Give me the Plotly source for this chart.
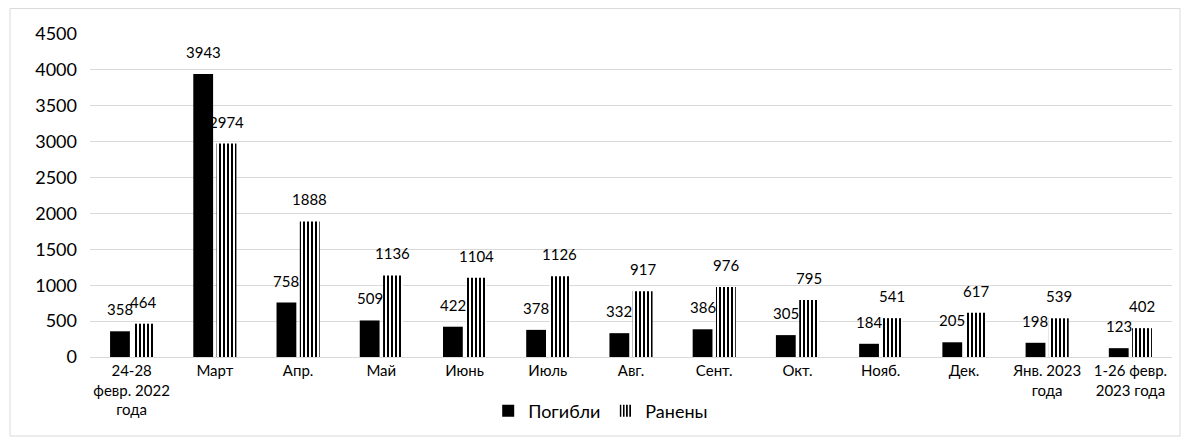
import plotly.graph_objects as go

categories = ["24-28<br>февр. 2022<br>года", "Март", "Апр.", "Май", "Июнь", "Июль", "Авг.",
              "Сент.", "Окт.", "Нояб.", "Дек.", "Янв. 2023<br>года", "1-26 февр.<br>2023 года"]
killed = [358, 3943, 758, 509, 422, 378, 332, 386, 305, 184, 205, 198, 123]
wounded = [464, 2974, 1888, 1136, 1104, 1126, 917, 976, 795, 541, 617, 539, 402]
y_ticks = [0, 500, 1000, 1500, 2000, 2500, 3000, 3500, 4000, 4500]

FONT = "Lato, Noto Sans, sans-serif"
BARGAP = 0.44
PLOT_W = 1082
slot_px = PLOT_W / len(categories) * (1 - BARGAP) / 2

fig = go.Figure()
fig.add_trace(go.Bar(
    x=categories, y=killed, name="Погибли",
    marker=dict(color="black", line=dict(width=0)),
))
fig.add_trace(go.Bar(
    x=categories, y=wounded, name="Ранены",
    marker=dict(color="white", line=dict(width=0),
                pattern=dict(shape="|", fgcolor="black", bgcolor="white",
                             size=4, solidity=0.5, fillmode="replace")),
))

annotations = []
for series, sign in ((killed, -1), (wounded, 1)):
    for cat, val in zip(categories, series):
        annotations.append(dict(
            x=cat, y=val, xref="x", yref="y", text=str(val), showarrow=False,
            xanchor="center", yanchor="bottom", xshift=sign * slot_px / 2, yshift=11,
            font=dict(size=15, color="black", family=FONT),
        ))

fig.update_layout(
    width=1184, height=433,
    margin=dict(l=82, r=20, t=26, b=84),
    paper_bgcolor="white", plot_bgcolor="white",
    barmode="group", bargap=BARGAP, bargroupgap=0.15,
    font=dict(family=FONT, size=15, color="black"),
    showlegend=True,
    legend=dict(orientation="h", x=0.472, xanchor="center", y=-0.167, yanchor="middle",
                font=dict(size=18, family=FONT), itemwidth=30),
    xaxis=dict(tickfont=dict(size=15, family=FONT), showline=True, linecolor="#d9d9d9",
               linewidth=1, ticks=""),
    yaxis=dict(range=[0, 4500], tickvals=y_ticks, showgrid=True, gridcolor="#d9d9d9",
               gridwidth=1, zeroline=False, tickfont=dict(size=18, family=FONT),
               ticks="", ticklabelstandoff=12),
    annotations=annotations,
    shapes=[dict(type="rect", xref="paper", yref="paper",
                 x0=-0.0739, x1=1.0074, y0=-0.2446, y1=1.079,
                 line=dict(color="#d9d9d9", width=1), layer="below")],
)

fig.write_html("out.html")
